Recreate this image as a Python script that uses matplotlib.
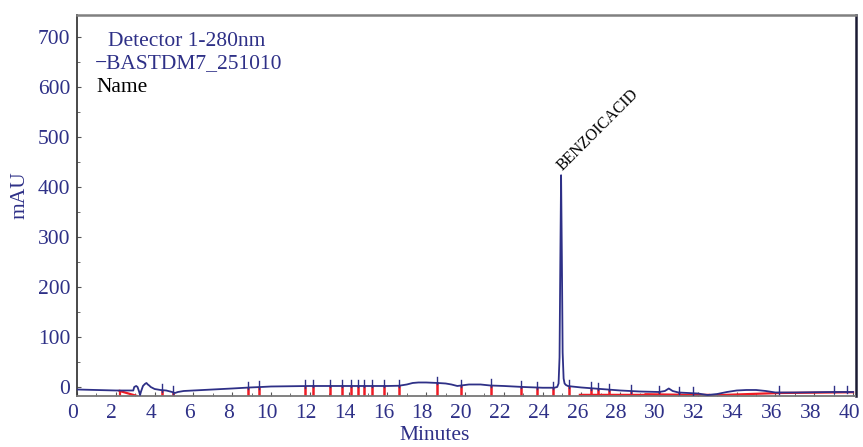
import matplotlib
matplotlib.use("Agg")
import matplotlib.pyplot as plt
import matplotlib.transforms as mtransforms
import numpy as np

# ---- data ----
time_min = [0, 0.5, 1, 1.5, 2, 2.5, 2.9, 2.95, 3.05, 3.12, 3.2, 3.25, 3.3, 3.4, 3.5, 3.58,
            3.65, 3.72, 3.8, 4.0, 4.3, 4.6, 4.9, 5.05, 5.2, 5.5, 6, 7, 8, 8.9, 9.5, 10, 11,
            12, 13, 14, 15, 16, 16.6, 17.0, 17.3, 17.6, 18.0, 18.6, 19.0, 19.3, 19.6, 20.2,
            20.8, 21.3, 22, 23, 24, 24.6, 24.75, 24.82, 24.87, 24.91, 24.95, 24.99, 25.03,
            25.08, 25.13, 25.2, 25.3, 25.5, 26, 27, 28, 29, 30, 30.3, 30.5, 30.7, 31, 32,
            32.5, 33, 33.5, 34, 34.5, 35, 35.5, 36, 37, 38, 39, 40]
signal_mau = [-4, -4.5, -5, -5.5, -6, -6, -6, 1, 3, 1, -8, -15, -8, 3, 7, 9,
              6, 4, 1, -3, -5, -6, -9, -11, -9, -7, -6, -4, -2, 0, 1, 2, 2.5,
              3, 3, 3, 3, 3, 3.5, 6, 9, 10, 10, 9, 8, 6, 3, 6,
              6, 4, 3, 1, -0.5, -0.5, 1, 8, 60, 250, 424, 260, 70,
              18, 8, 5, 3, 2, 0, -3, -6, -8, -9, -7, -2, -7, -10, -12,
              -15, -13, -9, -6, -5, -5, -7, -10, -10, -9.5, -9, -9]

event_times = [4.37, 4.93, 8.83, 9.36, 11.75, 12.15, 13.04, 13.64, 14.1, 14.47, 14.78,
               15.19, 15.84, 16.58, 18.54, 19.79, 21.32, 22.89, 23.73, 24.52, 25.34,
               26.48, 26.84, 27.42, 28.54, 30.02, 31.05, 31.74, 36.2, 39.04, 39.67]

baseline1_t = [2.2, 3.1]
baseline1_v = [-7, -17]
baseline2_t = [25.9, 32.5]
baseline2_v = [-16, -16]
baseline3_t = [29.3, 32.5]
baseline3_v = [-13, -16]
baseline4_t = [32.5, 36.2, 40]
baseline4_v = [-16, -11, -9.5]

peak_time = 24.95
peak_height = 424
peak_name = "BENZOICACID"

x_ticks = list(range(0, 41, 2))
y_ticks = list(range(0, 701, 100))

# ---- style ----
NAVY = "#2E3087"
RED = "#EE1C25"
FONT = ["Liberation Serif", "DejaVu Serif"]
plt.rcParams["font.family"] = FONT

fig = plt.figure(figsize=(8.63, 4.47), dpi=100)
ax = fig.add_axes([77 / 863, 51 / 447, (856 - 77) / 863, (396 - 15) / 447])
ax.set_xlim(0, 40.15)
ax.set_ylim(-17, 744)

t = np.array(time_min)
s = np.array(signal_mau)

# red baselines
ax.plot(baseline1_t, baseline1_v, color=RED, lw=1.6, zorder=2)
ax.plot([baseline1_t[0]] * 2, [-17, baseline1_v[0]], color=RED, lw=1.6, zorder=2)
ax.plot(baseline2_t, baseline2_v, color=RED, lw=2.5, zorder=2)
ax.plot(baseline3_t, baseline3_v, color=RED, lw=1.5, alpha=0.8, zorder=2)
ax.plot(baseline4_t, baseline4_v, color=RED, lw=1.6, zorder=2)

# trace
ax.plot(t, s, color=NAVY, lw=1.3, zorder=3)


def base_at(x):
    for bt, bv in ((baseline2_t, baseline2_v), (baseline4_t, baseline4_v)):
        if bt[0] <= x <= bt[-1]:
            return float(np.interp(x, bt, bv))
    return -17.0


for et in event_times:
    yv = float(np.interp(et, t, s))
    b = base_at(et)
    if yv - 1 > b:
        ax.plot([et, et], [b, yv - 1], color=RED, lw=1.8, zorder=2)
    ax.plot([et, et], [yv - 3, yv + 12], color=NAVY, lw=1.0, zorder=4)

# peak label
ax.text(peak_time + 0.2, peak_height + 2, peak_name, rotation=45, rotation_mode="anchor",
        ha="left", va="bottom", fontsize=11.5, color="black", family=FONT)

# legend-like texts
fig.text(108 / 863, 1 - 42 / 447, "Detector 1-280nm",
         fontsize=15.5, color=NAVY, va="center", ha="left")
fig.text(95 / 863, 1 - 64 / 447, "\u2212BASTDM7_251010",
         fontsize=15.5, color=NAVY, va="center", ha="left")
fig.text(96 / 863, 1 - 88 / 447, "Name",
         fontsize=15.5, color="black", va="center", ha="left")

# axes styling
ax.set_xticks(x_ticks)
ax.set_xticklabels([str(v) for v in x_ticks])
ax.set_xticks(np.arange(0, 40.1, 1), minor=True)
ax.set_yticks(y_ticks)
ax.set_yticklabels([str(v) for v in y_ticks])
ax.set_yticks(np.arange(0, 701, 50), minor=True)
ax.tick_params(axis="both", which="both", direction="in", colors="#555555",
               labelcolor=NAVY, labelsize=15.5)
ax.tick_params(axis="both", which="major", length=3, width=0.8)
ax.tick_params(axis="both", which="minor", length=2, width=0.6)
ax.tick_params(axis="x", pad=6)
ax.tick_params(axis="y", pad=5)

offset = mtransforms.ScaledTranslation(-4 / 100, 0, fig.dpi_scale_trans)
for lab in ax.get_xticklabels():
    lab.set_transform(lab.get_transform() + offset)

fig.text(435 / 863, 1 - 436 / 447, "Minutes", fontsize=15.5, color=NAVY,
         ha="center", va="center")
fig.text(20 / 863, 1 - 195 / 447, "mAU", fontsize=15.5, color=NAVY,
         ha="center", va="center", rotation=90)

ax.spines["top"].set_color("#808080")
ax.spines["top"].set_linewidth(1.8)
ax.spines["right"].set_color("#1a1a33")
ax.spines["right"].set_linewidth(1.8)
ax.spines["left"].set_color("#3a3a3a")
ax.spines["left"].set_linewidth(1.3)
ax.spines["bottom"].set_color("#777777")
ax.spines["bottom"].set_linewidth(1.3)
ax.spines["bottom"].set_linestyle((0, (1, 1)))

fig.savefig("out.png", dpi=100)
